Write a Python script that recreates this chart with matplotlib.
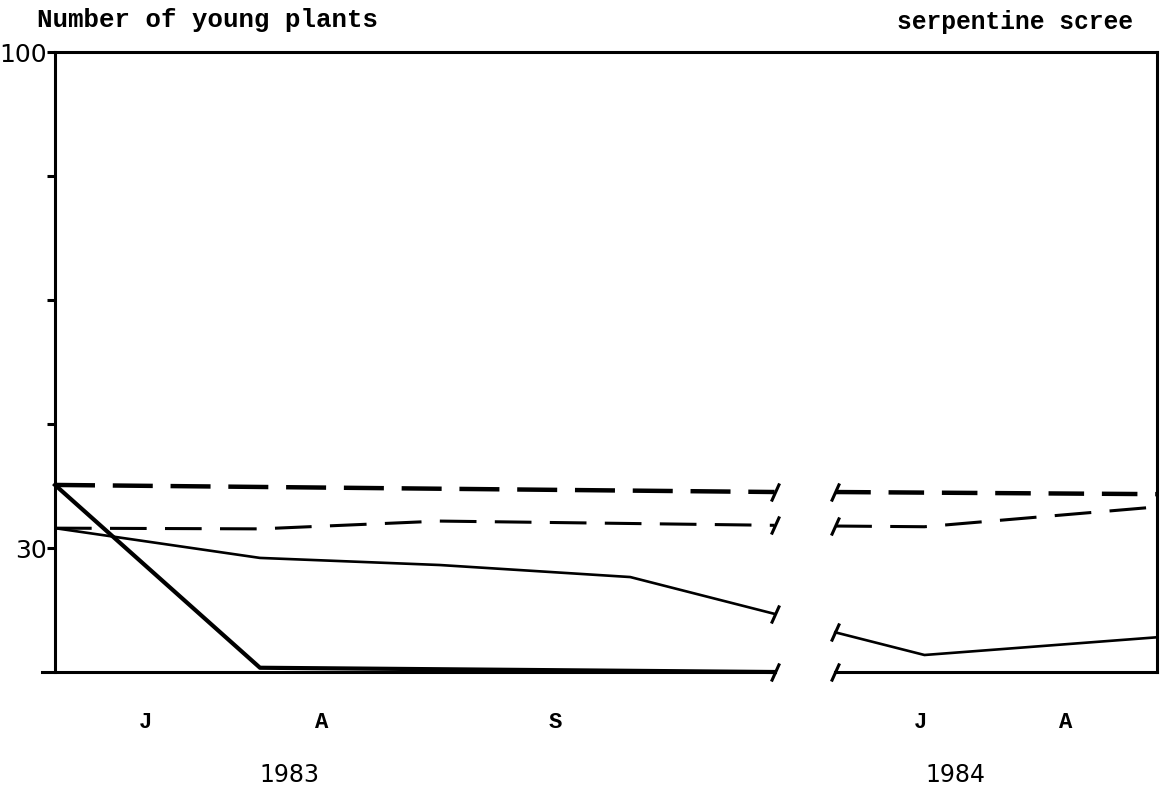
import matplotlib
matplotlib.use("Agg")
import matplotlib.pyplot as plt

# x positions are in arbitrary time units across the broken axis (0..100)
x_1983_heavy_dash = [0, 65.3]
y_1983_heavy_dash = [38.9, 37.9]
x_1984_heavy_dash = [70.8, 100]
y_1984_heavy_dash = [37.9, 37.6]

x_1983_dash = [0, 18.6, 34.9, 65.3]
y_1983_dash = [32.8, 32.7, 33.8, 33.2]
x_1984_dash = [70.8, 78.9, 100]
y_1984_dash = [33.1, 33.0, 35.8]

x_1983_solid = [0, 18.6, 34.9, 52.2, 65.3]
y_1983_solid = [32.8, 28.6, 27.6, 25.9, 20.7]
x_1984_solid = [70.8, 78.9, 100]
y_1984_solid = [18.1, 14.9, 17.4]

x_1983_thick = [0, 18.6, 65.3]
y_1983_thick = [38.9, 13.1, 12.5]

month_pos = [8.2, 24.2, 45.4, 78.5, 91.7]
month_labels = ["J", "A", "S", "J", "A"]
year_pos = [21.3, 81.7]
year_labels = ["1983", "1984"]

y_min, y_max = 12.5, 100
y_ticks = [100, 82.5, 65, 47.5, 30]
y_ticklabels = ["100", "", "", "", "30"]

brk = [(-0.45, -1), (0.45, 1)]  # slanted break mark

fig = plt.figure(figsize=(11.6, 7.87), dpi=100)
ax = fig.add_axes([55/1160, 1-672/787, 1102/1160, 620/787])
ax.set_xlim(0, 100)
ax.set_ylim(y_min, y_max)

for s in ["left", "top", "right"]:
    ax.spines[s].set_linewidth(2.2)
ax.spines["bottom"].set_visible(False)

# bottom axis drawn by hand because of the break
ax.plot([-1.2, 65.3], [y_min, y_min], color="black", lw=2.2, clip_on=False)
ax.plot([70.8, 100], [y_min, y_min], color="black", lw=2.2, clip_on=False)
ax.plot([65.3, 70.8], [y_min, y_min], ls="none", marker=brk, ms=13,
        mew=2.2, color="black", clip_on=False)

ax.plot(x_1983_heavy_dash, y_1983_heavy_dash, color="black", lw=3.2, dashes=(9, 4))
ax.plot(x_1984_heavy_dash, y_1984_heavy_dash, color="black", lw=3.2, dashes=(8, 4))
ax.plot(x_1983_dash, y_1983_dash, color="black", lw=2.2, dashes=(12, 6))
ax.plot(x_1984_dash, y_1984_dash, color="black", lw=2.2, dashes=(12, 6))
ax.plot(x_1983_solid, y_1983_solid, color="black", lw=1.9)
ax.plot(x_1984_solid, y_1984_solid, color="black", lw=1.9)
ax.plot(x_1983_thick, y_1983_thick, color="black", lw=3, clip_on=False)

# break marks at the segment ends
for xs, ys in [(x_1983_heavy_dash, y_1983_heavy_dash), (x_1983_dash, y_1983_dash),
               (x_1983_solid, y_1983_solid)]:
    ax.plot(xs[-1], ys[-1], ls="none", marker=brk, ms=13, mew=2.2, color="black")
for xs, ys in [(x_1984_heavy_dash, y_1984_heavy_dash), (x_1984_dash, y_1984_dash),
               (x_1984_solid, y_1984_solid)]:
    ax.plot(xs[0], ys[0], ls="none", marker=brk, ms=13, mew=2.2, color="black")

ax.set_yticks(y_ticks)
ax.set_yticklabels(y_ticklabels, fontsize=18, family="DejaVu Sans")
ax.tick_params(axis="y", length=6, width=2.2, pad=0)
ax.set_xticks([])

tr = ax.get_xaxis_transform()
for p, lab in zip(month_pos, month_labels):
    ax.text(p, -0.081, lab, transform=tr, ha="center", va="center",
            fontsize=16, fontweight="bold", family=["Liberation Mono", "DejaVu Sans Mono"])
for p, lab in zip(year_pos, year_labels):
    ax.text(p, -0.166, lab, transform=tr, ha="center", va="center",
            fontsize=17, family=["Liberation Sans Narrow", "DejaVu Sans"])

fig.text(37/1160, 1-20/787, "Number of young plants", ha="left", va="center",
         fontsize=18.5, fontweight="bold", family=["Liberation Mono", "DejaVu Sans Mono"])
fig.text(1133/1160, 1-22/787, "serpentine scree", ha="right", va="center",
         fontsize=17.7, fontweight="bold", family=["Liberation Mono", "DejaVu Sans Mono"])

fig.savefig("out.png", dpi=100)
